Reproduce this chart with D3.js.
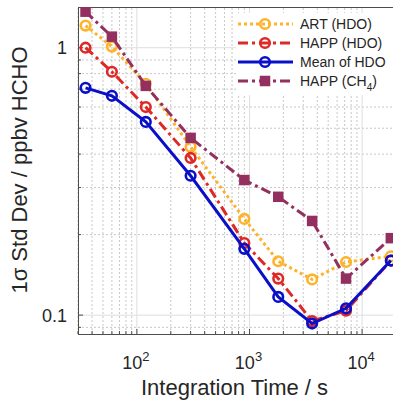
<!DOCTYPE html>
<html>
<head>
<meta charset="utf-8">
<script src="https://cdn.jsdelivr.net/npm/d3@7"></script>
<style>
  body { margin: 0; background: #fff; }
  text { font-family: "Liberation Sans", Arial, sans-serif; fill: #262626; }
</style>
</head>
<body>
<div id="chart"></div>
<script>
// integration times (s) and 1-sigma std dev (ppbv HCHO)
const times = [35, 60, 120, 300, 900, 1800, 3600, 7200, 18000];
const artHDO = [1.21, 1.01, 0.733, 0.426, 0.229, 0.159, 0.136, 0.158, 0.166];
const happHDO = [1.0, 0.813, 0.60, 0.387, 0.186, 0.137, 0.095, 0.104, 0.16];
const meanHDO = [0.708, 0.661, 0.528, 0.332, 0.177, 0.117, 0.093, 0.106, 0.16];
const happCH4 = [1.364, 1.1, 0.72, 0.46, 0.32, 0.277, 0.225, 0.137, 0.194];

const seriesNames = ['ART (HDO)', 'HAPP (HDO)', 'Mean of HDO', 'HAPP (CH4)'];
const xMajor = [100, 1000, 10000];
const yMajor = [0.1, 1];
const yLabels = ['0.1', '1'];

const width = 393, height = 410;
const margin = { top: 7, right: -3, bottom: 76, left: 78 };

const x = d3.scaleLog().domain([30, 20000]).range([margin.left, width - margin.right]);
const y = d3.scaleLog().domain([0.085, 1.42]).range([height - margin.bottom, margin.top]);

const svg = d3.select('#chart').append('svg')
  .attr('width', width)
  .attr('height', height);

svg.append('defs').append('clipPath').attr('id', 'clip')
  .append('rect')
  .attr('x', margin.left).attr('y', margin.top)
  .attr('width', width - margin.right - margin.left)
  .attr('height', height - margin.bottom - margin.top);

const x0 = margin.left, x1 = width - margin.right;
const y0 = height - margin.bottom, y1 = margin.top;

// minor tick positions
const xMinor = [];
[10, 100, 1000, 10000].forEach(d => { for (let k = 2; k <= 9; k++) { const v = d * k; if (v >= 30 && v <= 20000) xMinor.push(v); } });
const yMinor = [0.09];
for (let k = 2; k <= 9; k++) yMinor.push(k / 10);

const grid = svg.append('g');
grid.selectAll('.vmin').data(xMinor).enter().append('line')
  .attr('x1', d => x(d)).attr('x2', d => x(d)).attr('y1', y0).attr('y2', y1)
  .attr('stroke', '#c8c8c8').attr('stroke-width', 1).attr('stroke-dasharray', '2,2');
grid.selectAll('.hmin').data(yMinor).enter().append('line')
  .attr('y1', d => y(d)).attr('y2', d => y(d)).attr('x1', x0).attr('x2', x1)
  .attr('stroke', '#c8c8c8').attr('stroke-width', 1).attr('stroke-dasharray', '2,2');
grid.selectAll('.vmaj').data(xMajor).enter().append('line')
  .attr('x1', d => x(d)).attr('x2', d => x(d)).attr('y1', y0).attr('y2', y1)
  .attr('stroke', '#dedede').attr('stroke-width', 1);
grid.selectAll('.hmaj').data(yMajor).enter().append('line')
  .attr('y1', d => y(d)).attr('y2', d => y(d)).attr('x1', x0).attr('x2', x1)
  .attr('stroke', '#dedede').attr('stroke-width', 1);

// axes box and inward ticks
const ax = svg.append('g').attr('stroke', '#4d4d4d').attr('stroke-width', 1);
ax.append('line').attr('x1', x0).attr('x2', x1).attr('y1', y0 + 0.5).attr('y2', y0 + 0.5);
ax.append('line').attr('x1', x0).attr('x2', x1).attr('y1', y1 + 0.5).attr('y2', y1 + 0.5);
ax.append('line').attr('x1', x0 + 0.5).attr('x2', x0 + 0.5).attr('y1', y0).attr('y2', y1);
ax.selectAll('.xt').data(xMinor).enter().append('line')
  .attr('x1', d => x(d)).attr('x2', d => x(d)).attr('y1', y0).attr('y2', y0 - 3);
ax.selectAll('.xT').data(xMajor).enter().append('line')
  .attr('x1', d => x(d)).attr('x2', d => x(d)).attr('y1', y0).attr('y2', y0 - 5);
ax.selectAll('.yt').data(yMinor).enter().append('line')
  .attr('y1', d => y(d)).attr('y2', d => y(d)).attr('x1', x0).attr('x2', x0 + 3);
ax.selectAll('.yT').data(yMajor).enter().append('line')
  .attr('y1', d => y(d)).attr('y2', d => y(d)).attr('x1', x0).attr('x2', x0 + 5);

// tick labels
svg.selectAll('.ylab').data(yMajor).enter().append('text')
  .attr('x', x0 - 11).attr('y', d => y(d)).attr('dy', '0.36em')
  .attr('text-anchor', 'end').attr('font-size', 18)
  .text((d, i) => yLabels[i]);

const xl = svg.selectAll('.xlab').data(xMajor).enter().append('text')
  .attr('x', d => x(d) - 1).attr('y', 369)
  .attr('text-anchor', 'middle').attr('font-size', 18);
xl.append('tspan').text('10');
xl.append('tspan').attr('dy', -8).attr('font-size', 13).text(d => Math.round(Math.log10(d)));

// axis titles
svg.append('text')
  .attr('x', (x0 + 393) / 2 - 1).attr('y', 395)
  .attr('text-anchor', 'middle').attr('font-size', 22)
  .text('Integration Time / s');
svg.append('text')
  .attr('transform', 'translate(27,170) rotate(-90)')
  .attr('text-anchor', 'middle').attr('font-size', 22)
  .text('1\u03C3 Std Dev / ppbv HCHO');

// series
const series = [
  { name: seriesNames[0], values: artHDO, color: '#FDB32B', dash: '3,3', marker: 'circle' },
  { name: seriesNames[1], values: happHDO, color: '#DD2A26', dash: '10,4,3,4', marker: 'circle' },
  { name: seriesNames[2], values: meanHDO, color: '#0A0FC8', dash: null, marker: 'circle' },
  { name: seriesNames[3], values: happCH4, color: '#93305F', dash: '10,4,3,4', marker: 'square' }
];

const line = d3.line().x(d => x(d[0])).y(d => y(d[1]));
const plot = svg.append('g').attr('clip-path', 'url(#clip)');

function drawMarker(g, s, cx, cy) {
  if (s.marker === 'circle') {
    g.append('circle').attr('cx', cx).attr('cy', cy).attr('r', 4.8)
      .attr('fill', 'none').attr('stroke', s.color).attr('stroke-width', 2.6);
  } else {
    g.append('rect').attr('x', cx - 4.5).attr('y', cy - 4.5).attr('width', 9).attr('height', 9)
      .attr('fill', s.color).attr('stroke', s.color).attr('stroke-width', 1.5);
  }
}

series.forEach(s => {
  const pts = times.map((t, i) => [t, s.values[i]]);
  plot.append('path').datum(pts)
    .attr('d', line)
    .attr('fill', 'none')
    .attr('stroke', s.color)
    .attr('stroke-width', 3)
    .attr('stroke-dasharray', s.dash);
  pts.forEach(p => drawMarker(plot, s, x(p[0]), y(p[1])));
});

// legend
const lg = svg.append('g');
lg.append('rect').attr('x', 236).attr('y', 13).attr('width', 160).attr('height', 82).attr('fill', '#fff');
series.forEach((s, i) => {
  const ly = 24 + i * 19;
  lg.append('line').attr('x1', 238).attr('x2', 293).attr('y1', ly).attr('y2', ly)
    .attr('stroke', s.color).attr('stroke-width', 3).attr('stroke-dasharray', s.dash);
  drawMarker(lg, s, 265, ly);
  const t = lg.append('text').attr('x', 300).attr('y', ly).attr('dy', '0.36em').attr('font-size', 14);
  if (s.name === 'HAPP (CH4)') {
    t.append('tspan').text('HAPP (CH');
    t.append('tspan').attr('dy', 5).attr('font-size', 10).text('4');
    t.append('tspan').attr('dy', -5).text(')');
  } else {
    t.text(s.name);
  }
});
</script>
</body>
</html>
